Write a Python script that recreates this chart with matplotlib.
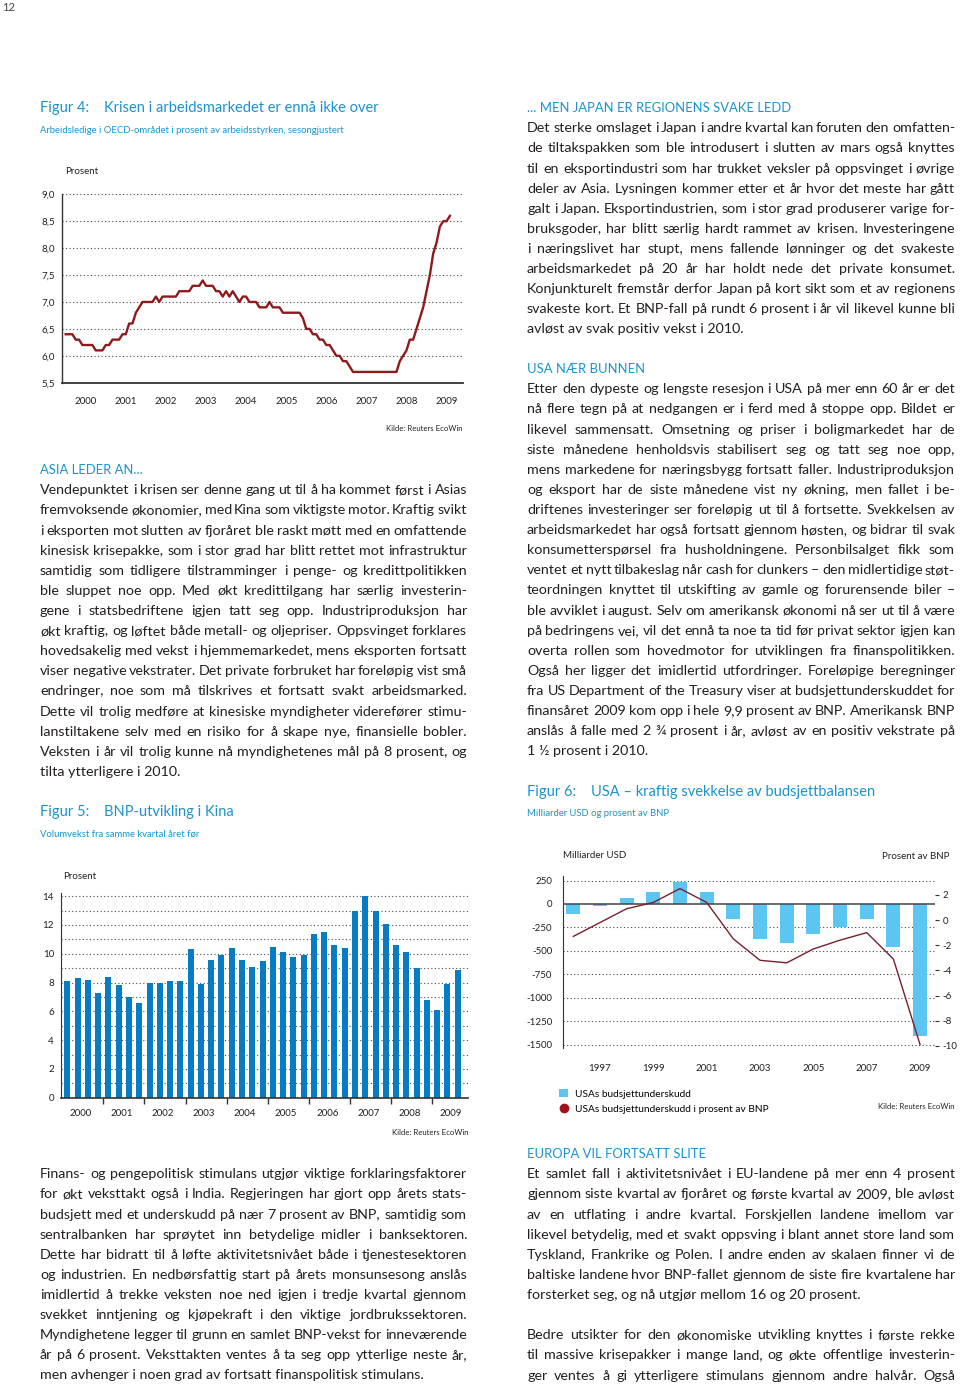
import matplotlib
matplotlib.use("Agg")
import matplotlib.pyplot as plt
from matplotlib import font_manager
from matplotlib.ft2font import FT2Font
from matplotlib.lines import Line2D

# ---- data -----------------------------------------------------------------
# Figur 4: OECD unemployment (% of labour force), monthly from Jan 2000
unemp_start_year = 2000
unemployment = [
    6.4, 6.4, 6.4, 6.3, 6.3, 6.2, 6.2, 6.2, 6.2, 6.1, 6.1, 6.1,
    6.2, 6.2, 6.3, 6.3, 6.3, 6.4, 6.4, 6.6, 6.6, 6.8, 6.9, 7.0,
    7.0, 7.0, 7.0, 7.1, 7.0, 7.1, 7.1, 7.1, 7.1, 7.1, 7.2, 7.2,
    7.2, 7.2, 7.3, 7.3, 7.3, 7.4, 7.3, 7.3, 7.3, 7.2, 7.2, 7.1,
    7.2, 7.1, 7.2, 7.1, 7.0, 7.1, 7.1, 7.0, 7.0, 7.0, 6.9, 6.9,
    6.9, 7.0, 6.9, 6.9, 6.9, 6.8, 6.8, 6.8, 6.8, 6.8, 6.8, 6.7,
    6.5, 6.5, 6.4, 6.4, 6.3, 6.3, 6.2, 6.2, 6.1, 6.0, 6.0, 5.9,
    5.9, 5.8, 5.7, 5.7, 5.7, 5.7, 5.7, 5.7, 5.7, 5.7, 5.7, 5.7,
    5.7, 5.7, 5.7, 5.7, 5.9, 6.0, 6.1, 6.3, 6.3, 6.5, 6.7, 6.9,
    7.2, 7.5, 7.9, 8.1, 8.4, 8.5, 8.5, 8.6,
]
unemp_years = list(range(2000, 2010))

# Figur 5: China GDP growth, quarterly y/y, 2000Q1 - 2009Q3
gdp_years = list(range(2000, 2010))
gdp_growth = [
    8.1, 8.3, 8.2, 7.3, 8.4, 7.8, 7.0, 6.6, 8.0, 8.0, 8.1, 8.1,
    10.3, 7.9, 9.6, 9.9, 10.4, 9.6, 9.1, 9.5, 10.5, 10.1, 9.8, 9.9,
    11.4, 11.5, 10.6, 10.4, 13.0, 14.0, 13.0, 12.1, 10.6, 10.1, 9.0, 6.8,
    6.1, 7.9, 8.9,
]

# Figur 6: US budget balance
budget_years = list(range(1996, 2010))
budget_busd = [-107, -22, 69, 126, 236, 128, -158, -377, -412, -318, -248, -161, -455, -1410]
budget_pct = [-1.3, -0.2, 0.9, 1.4, 2.5, 1.4, -1.5, -3.2, -3.4, -2.3, -1.6, -1.0, -3.1, -9.9]
budget_label_years = [1997, 1999, 2001, 2003, 2005, 2007, 2009]

# ---- text -----------------------------------------------------------------
asia_text = [
    "Vendepunktet i krisen ser denne gang ut til å ha kommet først i Asias",
    "fremvoksende økonomier, med Kina som viktigste motor. Kraftig svikt",
    "i eksporten mot slutten av fjoråret ble raskt møtt med en omfattende",
    "kinesisk krisepakke, som i stor grad har blitt rettet mot infrastruktur",
    "samtidig som tidligere tilstramminger i penge- og kredittpolitikken",
    "ble sluppet noe opp. Med økt kredittilgang har særlig investerin-",
    "gene i statsbedriftene igjen tatt seg opp. Industriproduksjon har",
    "økt kraftig, og løftet både metall- og oljepriser. Oppsvinget forklares",
    "hovedsakelig med vekst i hjemmemarkedet, mens eksporten fortsatt",
    "viser negative vekstrater. Det private forbruket har foreløpig vist små",
    "endringer, noe som må tilskrives et fortsatt svakt arbeidsmarked.",
    "Dette vil trolig medføre at kinesiske myndigheter viderefører stimu-",
    "lanstiltakene selv med en risiko for å skape nye, finansielle bobler.",
    "Veksten i år vil trolig kunne nå myndighetenes mål på 8 prosent, og",
    "tilta ytterligere i 2010.",
]
india_text = [
    "Finans- og pengepolitisk stimulans utgjør viktige forklaringsfaktorer",
    "for økt veksttakt også i India. Regjeringen har gjort opp årets stats-",
    "budsjett med et underskudd på nær 7 prosent av BNP, samtidig som",
    "sentralbanken har sprøytet inn betydelige midler i banksektoren.",
    "Dette har bidratt til å løfte aktivitetsnivået både i tjenestesektoren",
    "og industrien. En nedbørsfattig start på årets monsunsesong anslås",
    "imidlertid å trekke veksten noe ned igjen i tredje kvartal gjennom",
    "svekket inntjening og kjøpekraft i den viktige jordbrukssektoren.",
    "Myndighetene legger til grunn en samlet BNP-vekst for inneværende",
    "år på 6 prosent. Veksttakten ventes å ta seg opp ytterlige neste år,",
    "men avhenger i noen grad av fortsatt finanspolitisk stimulans.",
]
japan_text = [
    "Det sterke omslaget i Japan i andre kvartal kan foruten den omfatten-",
    "de tiltakspakken som ble introdusert i slutten av mars også knyttes",
    "til en eksportindustri som har trukket veksler på oppsvinget i øvrige",
    "deler av Asia. Lysningen kommer etter et år hvor det meste har gått",
    "galt i Japan. Eksportindustrien, som i stor grad produserer varige for-",
    "bruksgoder, har blitt særlig hardt rammet av krisen. Investeringene",
    "i næringslivet har stupt, mens fallende lønninger og det svakeste",
    "arbeidsmarkedet på 20 år har holdt nede det private konsumet.",
    "Konjunkturelt fremstår derfor Japan på kort sikt som et av regionens",
    "svakeste kort. Et BNP-fall på rundt 6 prosent i år vil likevel kunne bli",
    "avløst av svak positiv vekst i 2010.",
]
usa_text = [
    "Etter den dypeste og lengste resesjon i USA på mer enn 60 år er det",
    "nå flere tegn på at nedgangen er i ferd med å stoppe opp. Bildet er",
    "likevel sammensatt. Omsetning og priser i boligmarkedet har de",
    "siste månedene henholdsvis stabilisert seg og tatt seg noe opp,",
    "mens markedene for næringsbygg fortsatt faller. Industriproduksjon",
    "og eksport har de siste månedene vist ny økning, men fallet i be-",
    "driftenes investeringer ser foreløpig ut til å fortsette. Svekkelsen av",
    "arbeidsmarkedet har også fortsatt gjennom høsten, og bidrar til svak",
    "konsumetterspørsel fra husholdningene. Personbilsalget fikk som",
    "ventet et nytt tilbakeslag når cash for clunkers – den midlertidige støt-",
    "teordningen knyttet til utskifting av gamle og forurensende biler –",
    "ble avviklet i august. Selv om amerikansk økonomi nå ser ut til å være",
    "på bedringens vei, vil det ennå ta noe ta tid før privat sektor igjen kan",
    "overta rollen som hovedmotor for utviklingen fra finanspolitikken.",
    "Også her ligger det imidlertid utfordringer. Foreløpige beregninger",
    "fra US Department of the Treasury viser at budsjettunderskuddet for",
    "finansåret 2009 kom opp i hele 9,9 prosent av BNP.  Amerikansk BNP",
    "anslås å falle med 2 ¾ prosent i år, avløst av en positiv vekstrate på",
    "1 ½ prosent i 2010.",
]
europa_text = [
    "Et samlet fall i aktivitetsnivået i EU-landene på mer enn 4 prosent",
    "gjennom siste kvartal av fjoråret og første kvartal av 2009, ble avløst",
    "av en utflating i andre kvartal. Forskjellen landene imellom var",
    "likevel betydelig, med et svakt oppsving i blant annet store land som",
    "Tyskland, Frankrike og Polen. I andre enden av skalaen finner vi de",
    "baltiske landene hvor BNP-fallet gjennom de siste fire kvartalene har",
    "forsterket seg, og nå utgjør mellom 16 og 20 prosent.",
]
europa_text2 = [
    "Bedre utsikter for den økonomiske utvikling knyttes i første rekke",
    "til massive krisepakker i mange land, og økte offentlige investerin-",
    "ger ventes å gi ytterligere stimulans gjennom andre halvår. Også",
]


# ---- styling --------------------------------------------------------------
def has_glyphs(family, chars):
    try:
        path = font_manager.findfont(font_manager.FontProperties(family=family),
                                     fallback_to_default=False)
        font = FT2Font(path)
        return all(font.get_char_index(ord(c)) for c in chars)
    except Exception:
        return False


MAIN_FONT = 'Lato' if has_glyphs('Lato', 'øØåæÆ¾½–') else 'Roboto'

W, H = 960, 1386
plt.rcParams['font.family'] = [MAIN_FONT, 'Open Sans', 'DejaVu Sans']
plt.rcParams['axes.unicode_minus'] = False

BLUE = '#1b93cf'
INK = '#231f20'
GRID = '#4a4a4a'
BODY = 10.3 if MAIN_FONT == 'Lato' else 10.0
HEAD = 9.4 if MAIN_FONT == 'Lato' else 9.1
LINE = 20.12

fig = plt.figure(figsize=(W / 100, H / 100), dpi=100)
renderer = fig.canvas.get_renderer()


def fpos(x, y, size):
    # y is the visual middle of the line in pixels from the top
    base = y + 0.3 * size * 100 / 72
    return x / W, 1 - base / H


def put(x, y, s, size=BODY, color=INK, ha='left', **kw):
    return fig.text(*fpos(x, y, size), s, fontsize=size, color=color,
                    ha=ha, va='baseline', **kw)


def paragraph(lines, x0, x1, y0, justify_last=False):
    width = x1 - x0
    for k, line in enumerate(lines):
        y = y0 + k * LINE
        words = line.split()
        if (k == len(lines) - 1 and not justify_last) or len(words) < 2:
            put(x0, y, line)
            continue
        texts = [put(0, y, w) for w in words]
        widths = [t.get_window_extent(renderer).width for t in texts]
        gap = (width - sum(widths)) / (len(words) - 1)
        if gap < 2.2:
            scale = (width - 2.2 * (len(words) - 1)) / sum(widths)
            for t in texts:
                t.set_fontsize(BODY * scale)
            widths = [w * scale for w in widths]
            gap = 2.2
        x = x0
        for t, w in zip(texts, widths):
            t.set_position((x / W, t.get_position()[1]))
            x += w + gap


def axrect(left, top, right, bottom):
    return [left / W, 1 - bottom / H, (right - left) / W, (bottom - top) / H]


def dotted_grid(ax, values):
    for v in values:
        ax.axhline(v, color=GRID, lw=0.8, ls=(0, (1, 2.2)), zorder=0)


# page number
put(2, 8, "12", size=8, color='#444444')

# ---- Figur 4 --------------------------------------------------------------
put(40, 108, "Figur 4:", size=10.5, color=BLUE)
put(104, 108, "Krisen i arbeidsmarkedet er ennå ikke over", size=10.5, color=BLUE)
put(40, 130, "Arbeidsledige i OECD-området i prosent av arbeidsstyrken, sesongjustert",
    size=6.8, color=BLUE)
put(65, 171, "Prosent", size=7)

ax4 = fig.add_axes(axrect(62, 194.3, 463, 382.7))
xs = [unemp_start_year + i / 12 for i in range(len(unemployment))]
ax4.plot(xs, unemployment, color='#8e1a1c', lw=1.7, zorder=3)
ax4.set_xlim(1999.908, 2009.91)
ax4.set_ylim(5.5, 9.0)
dotted_grid(ax4, [6.0, 6.5, 7.0, 7.5, 8.0, 8.5, 9.0])
ax4.set_yticks([5.5, 6.0, 6.5, 7.0, 7.5, 8.0, 8.5, 9.0])
ax4.set_yticklabels([f"{v:.1f}".replace('.', ',') for v in ax4.get_yticks()])
ax4.set_xticks([y + 0.5 for y in unemp_years])
ax4.set_xticklabels([str(y) for y in unemp_years])
ax4.tick_params(axis='y', length=0, pad=5, labelsize=7, labelcolor=INK)
ax4.tick_params(axis='x', length=0, pad=10, labelsize=7, labelcolor=INK)
for s in ['top', 'right']:
    ax4.spines[s].set_visible(False)
ax4.spines['left'].set_color('#333333')
ax4.spines['left'].set_linewidth(1.0)
ax4.spines['bottom'].set_color('#333333')
ax4.spines['bottom'].set_linewidth(1.3)
ax4.patch.set_alpha(0)
put(462, 429, "Kilde: Reuters EcoWin", size=5.6, ha='right')

# ---- left column text -----------------------------------------------------
put(40, 470, "ASIA LEDER AN...", size=HEAD, color=BLUE)
paragraph(asia_text, 40, 467, 490)

# ---- Figur 5 --------------------------------------------------------------
put(40, 812, "Figur 5:", size=10.5, color=BLUE)
put(104, 812, "BNP-utvikling i Kina", size=10.5, color=BLUE)
put(40, 834, "Volumvekst fra samme kvartal året før", size=6.8, color=BLUE)
put(63, 876, "Prosent", size=7)

ax5 = fig.add_axes(axrect(61, 893.3, 468, 1097.7))
idx = list(range(len(gdp_growth)))
ax5.bar(idx, gdp_growth, width=0.58, color='#087cc2', zorder=2)
ax5.set_xlim(-0.62, 39.0)
ax5.set_ylim(0, 14.2)
dotted_grid(ax5, range(1, 15))
ax5.set_yticks(range(0, 15, 2))
ax5.set_xticks([4 * k - 0.5 for k in range(1, len(gdp_years))])
ax5.set_xticklabels([])
ax5.set_xticks([4 * k + 1.3 for k in range(len(gdp_years))], minor=True)
ax5.set_xticklabels([str(y) for y in gdp_years], minor=True)
ax5.tick_params(axis='y', length=0, pad=5, labelsize=7, labelcolor=INK)
ax5.tick_params(axis='x', which='major', direction='out', length=4, width=1.0,
                color='#333333')
ax5.tick_params(axis='x', which='minor', length=0, pad=8, labelsize=7, labelcolor=INK)
for s in ['top', 'right']:
    ax5.spines[s].set_visible(False)
ax5.spines['left'].set_color('#333333')
ax5.spines['bottom'].set_color('#333333')
ax5.spines['bottom'].set_linewidth(1.2)
ax5.patch.set_alpha(0)
put(469, 1133, "Kilde: Reuters EcoWin", size=5.6, ha='right')

paragraph(india_text, 40, 467, 1174)

# ---- right column text ----------------------------------------------------
put(527, 108, "... MEN JAPAN ER REGIONENS SVAKE LEDD", size=HEAD, color=BLUE)
paragraph(japan_text, 527, 955, 128)
put(527, 369, "USA NÆR BUNNEN", size=HEAD, color=BLUE)
paragraph(usa_text, 527, 955, 389)

# ---- Figur 6 --------------------------------------------------------------
put(527, 792, "Figur 6:", size=10.5, color=BLUE)
put(591, 792, "USA – kraftig svekkelse av budsjettbalansen", size=10.5, color=BLUE)
put(527, 813, "Milliarder USD og prosent av BNP", size=6.8, color=BLUE)
put(563, 855, "Milliarder USD", size=7)
put(950, 856, "Prosent av BNP", size=7, ha='right')

ax6 = fig.add_axes(axrect(563.3, 876, 935, 1048.4))
bars = ax6.bar(budget_years, budget_busd, width=0.52, color='#5cc6f3', zorder=2)
ax6.set_xlim(1995.625, 2009.56)
ax6.set_ylim(-1538, 298)
dotted_grid(ax6, [250, -250, -500, -750, -1000, -1250, -1500])
ax6.axhline(0, color='#444444', lw=1.1, zorder=3)
ax6.set_yticks([250, 0, -250, -500, -750, -1000, -1250, -1500])
ax6.set_xticks(budget_label_years)
ax6.tick_params(axis='y', length=0, pad=8, labelsize=7, labelcolor=INK)
ax6.tick_params(axis='x', length=0, pad=11, labelsize=7, labelcolor=INK)
for s in ['top', 'right', 'bottom']:
    ax6.spines[s].set_visible(False)
ax6.spines['left'].set_color('#333333')
ax6.patch.set_alpha(0)

ax6b = ax6.twinx()
ax6b.plot(budget_years, budget_pct, color='#7a1f2e', lw=1.0, zorder=4)
ax6b.set_ylim(-10.2, 3.5)
ax6b.set_yticks(range(-10, 3, 2))
ax6b.tick_params(axis='y', direction='out', length=3, width=0.8, pad=2.5,
                 labelsize=7, labelcolor=INK, color='#333333')
for s in ['top', 'right', 'bottom', 'left']:
    ax6b.spines[s].set_visible(False)

handles = [bars, Line2D([], [], marker='o', ls='none', color='#a3121c', markersize=6)]
ax6.legend(handles, ["USAs budsjettunderskudd", "USAs budsjettunderskudd i prosent av BNP"],
           loc='upper left', bbox_to_anchor=(559 / W, 1 - 1089 / H),
           bbox_transform=fig.transFigure, frameon=False, fontsize=7.3,
           handlelength=0.9, handleheight=0.9, handletextpad=0.7,
           labelspacing=0.55, borderpad=0, borderaxespad=0)
put(955, 1107, "Kilde: Reuters EcoWin", size=5.6, ha='right')

put(527, 1154, "EUROPA VIL FORTSATT SLITE", size=HEAD, color=BLUE)
paragraph(europa_text, 527, 955, 1174)
paragraph(europa_text2, 527, 955, 1335, justify_last=True)

fig.savefig("out.png", dpi=100)
